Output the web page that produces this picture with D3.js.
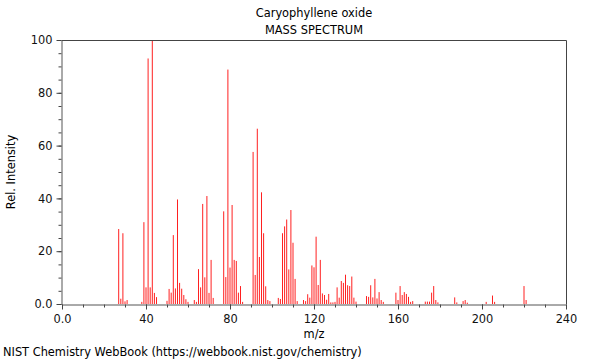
<!DOCTYPE html>
<html>
<head>
<meta charset="utf-8">
<script src="https://cdn.jsdelivr.net/npm/d3@7"></script>
<style>
  body { margin: 0; background: #fff; }
  svg { display: block; font-family: "DejaVu Sans", sans-serif; }
</style>
</head>
<body>
<svg id="chart" width="600" height="360"></svg>
<script>
// m/z values and relative intensities
const mz = [27, 28, 29, 30, 31, 38, 39, 40, 41, 42, 43, 44, 45,
  50, 51, 52, 53, 54, 55, 56, 57, 58, 59, 60, 63, 64, 65, 66, 67, 68, 69, 70, 71, 72,
  77, 78, 79, 80, 81, 82, 83, 84, 85, 86, 91, 92, 93, 94, 95, 96, 97, 98, 99,
  103, 104, 105, 106, 107, 108, 109, 110, 111, 112, 115, 116, 117, 118, 119, 120,
  121, 122, 123, 124, 125, 126, 127, 128, 129, 130, 131, 132, 133, 134, 135, 136,
  137, 138, 139, 140, 145, 146, 147, 148, 149, 150, 151, 152, 153,
  159, 160, 161, 162, 163, 164, 165, 166, 167, 173, 174, 175, 176, 177, 178, 179,
  187, 188, 191, 192, 193, 202, 205, 206, 220, 221]
const intensity = [28.4, 2, 26.8, 1, 1.5, 0.8, 31, 6.3, 93, 6.3, 100, 4.2, 2.6,
  1.2, 5.7, 4.3, 26.1, 5.9, 39.6, 8, 5.8, 3.4, 1.8, 0.8, 1.5, 0.8, 13.2, 6.3, 37.9, 10.1, 40.9, 4.2, 16.7, 2.3,
  35.1, 10.2, 88.8, 13.8, 37.5, 16.7, 16.3, 4.3, 6.8, 0.8, 57.6, 11, 66.4, 17.8, 42.3, 26.8, 6.7, 1.5, 1.1,
  2.3, 1.9, 26.8, 29.4, 32, 13.1, 35.6, 23.2, 9.5, 1.1, 1.5, 1.1, 3.7, 2.4, 14.6, 13.9,
  25.5, 7.2, 16.7, 4, 3.4, 1.6, 3.8, 0.6, 0.6, 0.8, 6.3, 2.4, 8.7, 8, 11.1, 7.1,
  6.8, 10.4, 2.4, 0.9, 3, 2.7, 7.1, 2.5, 9.5, 2.1, 4.5, 1.5, 0.8,
  4.3, 1.5, 6.8, 3.4, 4.5, 3.8, 2.7, 0.8, 1.1, 0.9, 0.9, 0.9, 4.3, 6.8, 1.5, 0.6,
  2.5, 0.6, 1.1, 1.5, 0.5, 0.8, 3.2, 0.8, 6.8, 1.5]

const xTicks = [0, 40, 80, 120, 160, 200, 240]
const yTicks = [0, 20, 40, 60, 80, 100]

const title = "Caryophyllene oxide"
const subtitle = "MASS SPECTRUM"
const credit = "NIST Chemistry WebBook (https://webbook.nist.gov/chemistry)"

const peaks = mz.map((m, i) => ({ m, v: intensity[i] }))

const svg = d3.select('#chart')
const mLeft = 62, mRight = 566, mTop = 40, mBottom = 304
const fs = 11.4

const x = d3.scaleLinear().domain([0, 240]).range([mLeft, mRight])
const y = d3.scaleLinear().domain([0, 100]).range([mBottom, mTop])

const fmt = d => d === 0 ? '0.0' : d

// peaks (1px lines, left unsnapped so they antialias like the original)
svg.append('g')
  .selectAll('line')
  .data(peaks)
  .join('line')
  .attr('x1', d => x(d.m))
  .attr('x2', d => x(d.m))
  .attr('y1', y(0))
  .attr('y2', d => y(d.v))
  .attr('stroke', '#ff2020')
  .attr('stroke-width', 1)

// frame top + right
svg.append('path')
  .attr('d', `M${mLeft},${mTop + 0.5}H${mRight + 0.5}V${mBottom}`)
  .attr('fill', 'none')
  .attr('stroke', '#444')

// minor ticks
svg.append('g')
  .attr('transform', `translate(0,${mBottom + 0.5})`)
  .call(d3.axisBottom(x).tickValues(d3.range(0, 241, 10)).tickSize(3).tickFormat(''))
  .call(g => g.select('.domain').remove())
svg.append('g')
  .attr('transform', `translate(${mLeft - 0.5},0)`)
  .call(d3.axisLeft(y).tickValues(d3.range(0, 101, 5)).tickSize(3).tickFormat(''))
  .call(g => g.select('.domain').remove())

// major axes
svg.append('g')
  .attr('transform', `translate(0,${mBottom + 0.5})`)
  .call(d3.axisBottom(x).tickValues(xTicks).tickSize(5).tickSizeOuter(0).tickPadding(5).tickFormat(fmt))
svg.append('g')
  .attr('transform', `translate(${mLeft - 0.5},0)`)
  .call(d3.axisLeft(y).tickValues(yTicks).tickSize(5).tickSizeOuter(0).tickPadding(4).tickFormat(fmt))

svg.selectAll('.tick line').attr('stroke', '#444')
svg.selectAll('.domain').attr('stroke', '#555')
svg.selectAll('.tick text')
  .attr('font-family', '"DejaVu Sans", sans-serif')
  .attr('font-size', fs)
  .attr('fill', '#111')

// texts
svg.append('text')
  .attr('x', (mLeft + mRight) / 2).attr('y', 17)
  .attr('text-anchor', 'middle').attr('font-size', fs)
  .text(title)
svg.append('text')
  .attr('x', (mLeft + mRight) / 2).attr('y', 34)
  .attr('text-anchor', 'middle').attr('font-size', fs)
  .text(subtitle)
svg.append('text')
  .attr('x', (mLeft + mRight) / 2).attr('y', 338)
  .attr('text-anchor', 'middle').attr('font-size', fs)
  .text('m/z')
svg.append('text')
  .attr('transform', `translate(15,${(mTop + mBottom) / 2}) rotate(-90)`)
  .attr('text-anchor', 'middle').attr('font-size', fs)
  .text('Rel. Intensity')
svg.append('text')
  .attr('x', 3).attr('y', 356)
  .attr('font-size', fs)
  .text(credit)
</script>
</body>
</html>
